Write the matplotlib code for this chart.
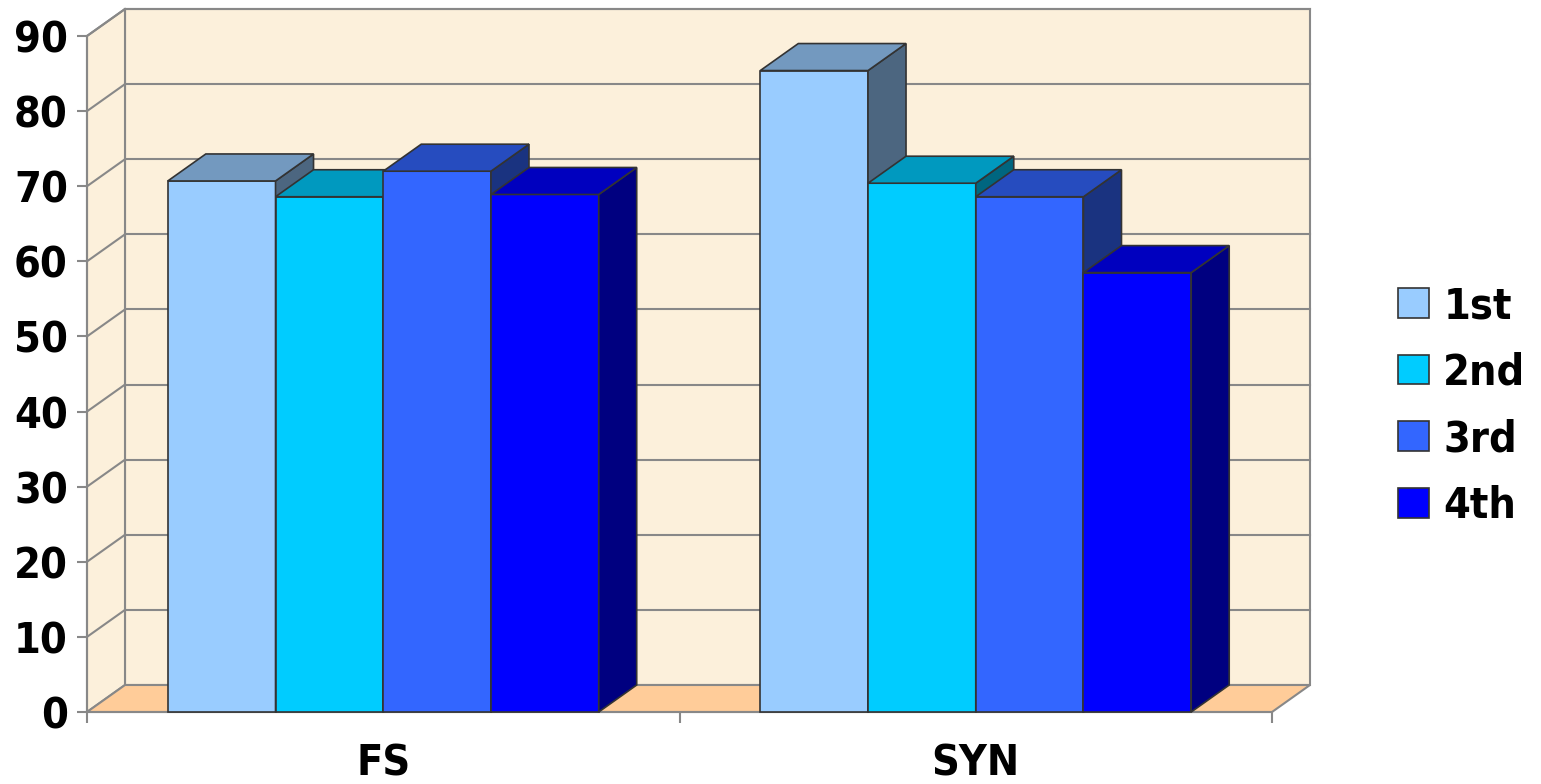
import matplotlib
matplotlib.use("Agg")
import matplotlib.pyplot as plt
from matplotlib.patches import Polygon, Patch
from matplotlib import font_manager as fm

# ---- data ----
categories = ["FS", "SYN"]
series_names = ["1st", "2nd", "3rd", "4th"]
values_1st = [70.7, 85.4]
values_2nd = [68.6, 70.4]
values_3rd = [72.0, 68.6]
values_4th = [68.9, 58.5]
y_ticks = [0, 10, 20, 30, 40, 50, 60, 70, 80, 90]

series_values = [values_1st, values_2nd, values_3rd, values_4th]

# face colours: front, top (shaded), side (darker)
front_colors = ["#99CCFF", "#00CCFF", "#3366FF", "#0000FF"]
top_colors = ["#7399BF", "#0099BF", "#264CBF", "#0000BF"]
side_colors = ["#4C6680", "#006680", "#1A3380", "#000080"]

WALL = "#FCF0DB"
FLOOR = "#FFCC99"
GRID = "#888888"
EDGE = "#333333"
FS_SIZE = 31

# bold font, condensed if the system has it
fp_try = fm.FontProperties(family="DejaVu Sans", weight="bold", stretch="condensed")
path = fm.findfont(fp_try)
if "Condensed" in path:
    FONT = fm.FontProperties(fname=path, size=FS_SIZE)
else:
    FONT = fm.FontProperties(family="DejaVu Sans", weight="bold", size=FS_SIZE)

W, H = 1541, 784
fig = plt.figure(figsize=(W / 100, H / 100), dpi=100)
fig.patch.set_facecolor("white")

# front plane of the plot box
left_px, right_px, bottom_px, top_px = 87, 1272, 712, 36
ax = fig.add_axes([left_px / W, (H - bottom_px) / H,
                   (right_px - left_px) / W, (bottom_px - top_px) / H])
n_cat = len(categories)
ymax = 90
ax.set_xlim(0, n_cat)
ax.set_ylim(0, ymax)
ax.patch.set_visible(False)

# depth offset of the 3-D box, in data units
px_per_x = (right_px - left_px) / n_cat
px_per_y = (bottom_px - top_px) / ymax
DX = 38 / px_per_x
DY = 27 / px_per_y

# walls and floor
back = Polygon([(DX, DY), (n_cat + DX, DY), (n_cat + DX, ymax + DY), (DX, ymax + DY)],
               closed=True, facecolor=WALL, edgecolor=GRID, lw=1.5, clip_on=False, zorder=0)
side = Polygon([(0, 0), (DX, DY), (DX, ymax + DY), (0, ymax)],
               closed=True, facecolor=WALL, edgecolor=GRID, lw=1.5, clip_on=False, zorder=0)
floor = Polygon([(0, 0), (n_cat, 0), (n_cat + DX, DY), (DX, DY)],
                closed=True, facecolor=FLOOR, edgecolor=GRID, lw=1.5, clip_on=False, zorder=1)
for p in (back, side, floor):
    ax.add_patch(p)

# gridlines on back and side walls
for v in y_ticks[1:]:
    ax.plot([DX, n_cat + DX], [v + DY, v + DY], color=GRID, lw=1.5, clip_on=False, zorder=1)
    ax.plot([0, DX], [v, v + DY], color=GRID, lw=1.5, clip_on=False, zorder=1)

# bars
n_ser = len(series_names)
gap = 1.5
bw = 1.0 / (n_ser + gap)
for g in range(n_cat):
    for s in range(n_ser):
        v = series_values[s][g]
        x0 = g + gap * bw / 2 + s * bw
        z = 3 + g * 10 + s
        ax.bar(x0, v, width=bw, align="edge", color=front_colors[s],
               edgecolor=EDGE, linewidth=1.2, zorder=z, clip_on=False)
        top = Polygon([(x0, v), (x0 + bw, v), (x0 + bw + DX, v + DY), (x0 + DX, v + DY)],
                      closed=True, facecolor=top_colors[s], edgecolor=EDGE, lw=1.2,
                      clip_on=False, zorder=z)
        sd = Polygon([(x0 + bw, 0), (x0 + bw + DX, DY), (x0 + bw + DX, v + DY), (x0 + bw, v)],
                     closed=True, facecolor=side_colors[s], edgecolor=EDGE, lw=1.2,
                     clip_on=False, zorder=z)
        ax.add_patch(sd)
        ax.add_patch(top)

# axes: left and bottom spines with outward ticks
for sp in ("top", "right"):
    ax.spines[sp].set_visible(False)
for sp in ("left", "bottom"):
    ax.spines[sp].set_color(GRID)
    ax.spines[sp].set_linewidth(1.5)
    ax.spines[sp].set_zorder(2)

ax.set_yticks(y_ticks)
ax.set_yticklabels([str(t) for t in y_ticks])
ax.tick_params(axis="y", direction="out", length=7.2, width=1.5, color=GRID, pad=6.5)
ax.set_xticks(range(n_cat + 1))
ax.set_xticklabels([])
ax.set_xticks([i + 0.5 for i in range(n_cat)], minor=True)
ax.set_xticklabels(categories, minor=True)
ax.tick_params(axis="x", which="major", direction="out", length=8, width=1.5, color=GRID)
ax.tick_params(axis="x", which="minor", length=0, pad=22)
for lbl in ax.get_yticklabels() + ax.get_xticklabels(minor=True):
    lbl.set_fontproperties(FONT)
    lbl.set_color("black")

# legend
handles = [Patch(facecolor=c, edgecolor=EDGE, linewidth=1.2) for c in front_colors]
leg = fig.legend(handles, series_names, loc="center left",
                 bbox_to_anchor=(1398 / W, (H - 406) / H), frameon=False,
                 prop=FONT, handlelength=0.72, handleheight=0.68,
                 handletextpad=0.33, labelspacing=0.57, borderpad=0, borderaxespad=0)

fig.savefig("out.png", dpi=100, facecolor="white")
